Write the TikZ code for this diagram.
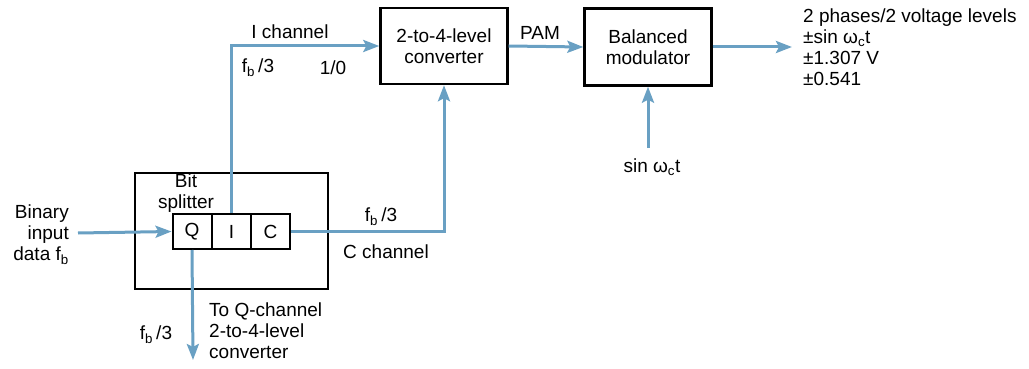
\documentclass[tikz,border=0pt]{standalone}
\usepackage{fontspec}
\setmainfont{Liberation Sans}
\usetikzlibrary{arrows.meta}
\definecolor{lblue}{RGB}{105,160,195}
\tikzset{
  txt/.style={font=\fontsize{19}{21}\selectfont, inner sep=0pt},
  blk/.style={draw=black, line width=2.4pt, txt, align=center},
  cell/.style={draw=black, line width=2pt, txt, minimum width=39pt, minimum height=35pt},
  conn/.style={draw=lblue, line width=3pt},
  arr/.style={conn, -{Stealth[length=16pt,width=12pt,inset=3pt]}}
}
\begin{document}
\begin{tikzpicture}[x=1pt,y=-1pt]
\useasboundingbox (0,0) rectangle (1029,369);
% blocks
\node[blk, minimum width=193pt, minimum height=116pt] (split) at (231.5,231) {};
\node[blk, minimum width=127pt, minimum height=76pt] (conv) at (444,46) {2-to-4-level\\converter};
\node[blk, minimum width=127pt, minimum height=77pt] (mod) at (648,47) {Balanced\\modulator};
\node[cell] (Q) at (192,231.5) {Q};
\node[cell] (I) at (231.5,231.5) {I};
\node[cell] (C) at (270.5,231.5) {C};
% coordinates
\coordinate (in) at (78,233);
\coordinate (sin) at (648,148);
\coordinate (out) at (792,47);
\coordinate (qout) at (193,360);
% connectors
\draw[arr] (in) -- (Q.west);
\draw[arr] (I.north) |- (conv.west);
\draw[arr] (C.east) -| (conv.south);
\draw[arr] (conv.east) -- (mod.west);
\draw[arr] (sin) -- (mod.south);
\draw[arr] (mod.east) -- (out);
\draw[arr] (Q.south) -- (qout);
% labels
\node[txt] (lich) at (290,32) {I channel};
\node[txt] (lfb1) at (258,68) {f\textsubscript{b}\,/3};
\node[txt] (l10) at (333,68) {1/0};
\node[txt] (lpam) at (540,33) {PAM};
\node[txt, align=center] (lbit) at (186,193) {Bit\\splitter};
\node[txt] (lfb2) at (381,217) {f\textsubscript{b}\,/3};
\node[txt] (lcch) at (386,252) {C channel};
\node[txt] (lsin) at (652,167) {sin ω\textsubscript{c}t};
\node[txt, align=left, anchor=north west] (lout) at (803,9) {2 phases/2 voltage levels\\±sin ω\textsubscript{c}t\\±1.307 V\\±0.541};
\node[txt, align=right, anchor=east] (lin) at (69,235) {Binary\\input\\data f\textsubscript{b}};
\node[txt] (lfb3) at (156,335) {f\textsubscript{b}\,/3};
\node[txt, align=left, anchor=north west] (lq) at (209,303) {To Q-channel\\2-to-4-level\\converter};
\end{tikzpicture}
\end{document}
